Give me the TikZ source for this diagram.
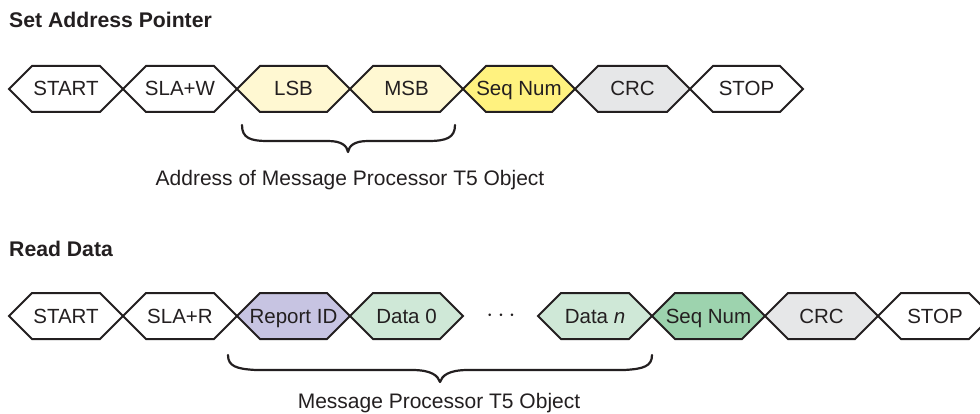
\documentclass[tikz,border=0pt]{standalone}
\usepackage{fontspec}
\setmainfont{Liberation Sans}
\definecolor{ink}{HTML}{231F20}
\definecolor{lightyellow}{HTML}{FFF8D2}
\definecolor{seqyellow}{HTML}{FFF27F}
\definecolor{crcgray}{HTML}{E6E7E8}
\definecolor{lavender}{HTML}{C7C4E2}
\definecolor{lightgreen}{HTML}{CFE8D7}
\definecolor{midgreen}{HTML}{9DD3AE}
\tikzset{
  hexline/.style={draw=ink, line width=2pt, line join=miter},
  hextext/.style={anchor=base, inner sep=0pt, text=ink, font=\fontsize{20.5}{24}\selectfont},
  title/.style={anchor=base west, inner sep=0pt, text=ink, font=\fontsize{21.2}{24}\selectfont\bfseries},
  label/.style={anchor=base, inner sep=0pt, text=ink, font=\fontsize{21}{24}\selectfont},
  bracepath/.style={draw=ink, line width=2.2pt, line cap=round, line join=round}
}
% name, x0, x1, yc, fill, text
\newcommand\hexa[6]{%
  \draw[hexline, fill=#5] (#2,#4) -- (#2+23,#4-23) -- (#3-23,#4-23) -- (#3,#4) -- (#3-23,#4+23) -- (#2+23,#4+23) -- cycle;
  \node[hextext] (#1) at ({(#2+#3)/2},#4+7) {#6};}
\begin{document}
\begin{tikzpicture}[x=1pt,y=-1pt]
\useasboundingbox (0,0) rectangle (980,414);
\begin{scope}
\clip (0,0) rectangle (980,414);
% titles
\node[title] (t1) at (9,28) {Set Address Pointer};
\node[title] (t2) at (9,257) {Read Data};
% top row
\hexa{a1}{9}{123}{89}{white}{START}
\hexa{a2}{123}{237}{89}{white}{SLA+W}
\hexa{a3}{237}{350}{89}{lightyellow}{LSB}
\hexa{a4}{350}{463}{89}{lightyellow}{MSB}
\hexa{a5}{463}{575}{89}{seqyellow}{Seq Num}
\hexa{a6}{575}{690}{89}{crcgray}{CRC}
\hexa{a7}{690}{803}{89}{white}{STOP}
% top brace
\draw[bracepath] (242,125) .. controls (242,138) and (250,141) .. (268,141) -- (328,141) .. controls (342,141) and (347,146) .. (348,152) .. controls (349,146) and (354,141) .. (368,141) -- (428,141) .. controls (446,141) and (455,138) .. (455,125);
\node[label] (l1) at (350,186) {Address of Message Processor T5 Object};
% bottom row
\hexa{b1}{9}{123}{316}{white}{START}
\hexa{b2}{123}{237}{316}{white}{SLA+R}
\hexa{b3}{237}{350}{316}{lavender}{Report ID}
\hexa{b4}{350}{463}{316}{lightgreen}{Data 0}
\node[inner sep=0pt, text=ink, font=\fontsize{27}{30}\selectfont] (dots) at (501,316) {$\cdots$};
\hexa{b5}{538}{652}{316}{lightgreen}{Data \textit{n}}
\hexa{b6}{652}{765}{316}{midgreen}{Seq Num}
\hexa{b7}{765}{878}{316}{crcgray}{CRC}
\hexa{b8}{878}{992}{316}{white}{STOP}
% bottom brace
\draw[bracepath] (228,355) .. controls (228,366) and (236,369) .. (256,370) -- (412,370) .. controls (432,370) and (438,376) .. (440,382) .. controls (442,376) and (448,370) .. (468,370) -- (624,370) .. controls (644,369) and (652,366) .. (652,355);
\node[label] (l2) at (439,408) {Message Processor T5 Object};
\end{scope}
\end{tikzpicture}
\end{document}
